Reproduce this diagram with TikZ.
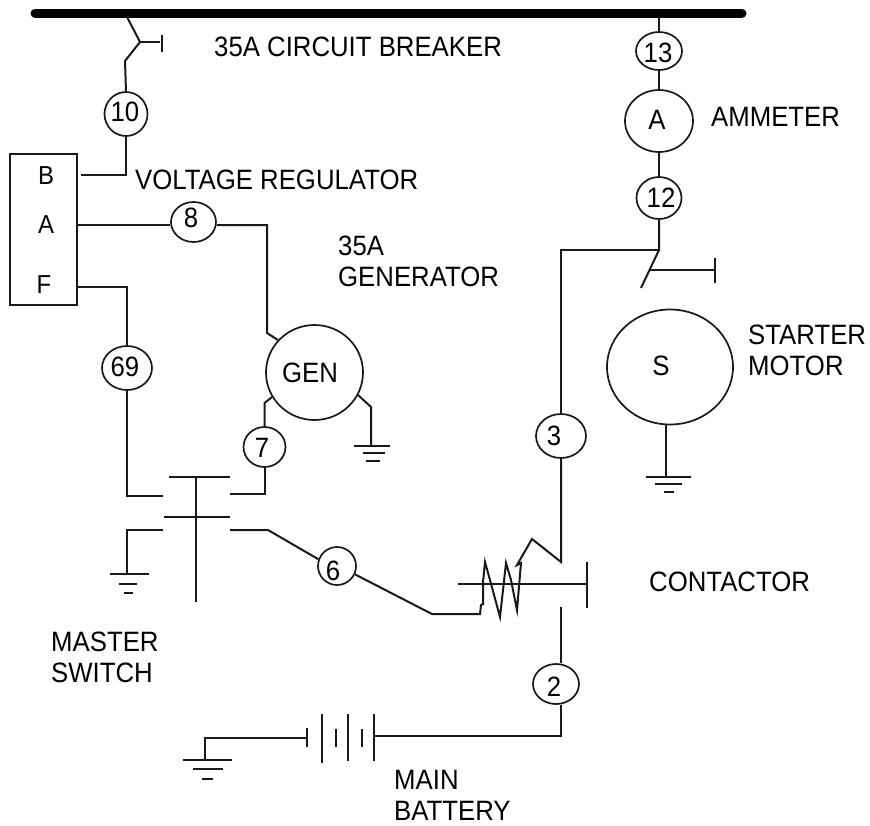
\documentclass[tikz,border=0pt]{standalone}
\usepackage{fontspec}
\usetikzlibrary{shapes.geometric}
\setmainfont[FakeStretch=0.92]{Liberation Sans}
\tikzset{
  wire/.style={draw=black!90,line width=2pt,line join=miter},
  tag/.style={ellipse,draw=black!90,line width=1.7pt,inner sep=0pt},
  num/.style n args={3}{label={[inner sep=0pt,font=\fontsize{28}{28}\selectfont,xshift=#2,yshift=#3]center:#1}},
  pin/.style={inner sep=0pt,font=\fontsize{26}{26}\selectfont},
  lab/.style={anchor=west,inner sep=0pt,align=left,font=\fontsize{28}{31}\selectfont}
}
\begin{document}
\begin{tikzpicture}[x=1pt,y=-1pt]
\useasboundingbox (0,0) rectangle (870,825);
% bus
\coordinate (busL) at (35,13); \coordinate (busR) at (742,13);
\draw[line width=9pt,line cap=round] (busL) -- (busR);
\coordinate (wx) at (561,0);
% regulator
\node[draw=black!90,line width=1.8pt,minimum width=67pt,minimum height=151pt,inner sep=0pt] (reg) at (43.5,229.5) {};
\node[pin] (pB) at (46,176) {B};
\node[pin] (pA) at (46,225) {A};
\node[pin] (pF) at (44,285) {F};
% tags
\node[tag,minimum width=43pt,minimum height=44pt,num={10}{-1pt}{2pt}] (t10) at (126,114) {};
\node[tag,minimum width=45pt,minimum height=40pt,num={8}{-2.5pt}{4pt}] (t8) at (193.5,222) {};
\node[tag,minimum width=50pt,minimum height=44pt,num={69}{-2pt}{1pt}] (t69) at (127,368) {};
\node[tag,minimum width=42pt,minimum height=40pt,num={7}{-2.5pt}{-1pt}] (t7) at (264.5,447) {};
\node[tag,minimum width=38pt,minimum height=38pt,num={6}{-4pt}{-5pt}] (t6) at (337,566) {};
\node[tag,minimum width=50pt,minimum height=44pt,num={3}{-7pt}{0pt}] (t3) at (561,436) {};
\node[tag,minimum width=46pt,minimum height=40pt,num={2}{-2pt}{-3pt}] (t2) at (556,684) {};
\node[tag,minimum width=46pt,minimum height=38pt,num={13}{-1pt}{-2pt}] (t13) at (659,51) {};
\node[tag,minimum width=45pt,minimum height=42pt,num={12}{2pt}{0pt}] (t12) at (659,198) {};
\node[tag,minimum width=68pt,minimum height=62pt,num={A}{-2pt}{1pt}] (amm) at (659,121) {};
\node[tag,minimum width=97pt,minimum height=95pt,num={GEN}{-4.5pt}{0pt}] (gen) at (314.5,372.5) {};
\node[tag,minimum width=126pt,minimum height=115pt,num={S}{-9pt}{1pt}] (mot) at (670,367) {};
% breaker
\coordinate (cb1) at (127,17); \coordinate (cb2) at (140,42); \coordinate (cb3) at (125,61);
\draw[wire] (cb1) -- (cb2) -- (cb3) -- (t10.north);
\draw[wire] (cb2) -- (160,42);
\draw[wire] (162,35) -- (162,52);
\draw[wire] (t10.south) -- (126,175) -- (81,175);
% A wire
\draw[wire] (reg.east |- pA) -- (t8.west |- pA);
\draw[wire] (t8.east |- pA) -- (267,225) -- (267,333) -- (278,340);
% F wire
\draw[wire] (77,287) -- (127,287) -- (t69.north);
\draw[wire] (t69.south) -- (127,496) -- (163,496);
% master switch
\draw[wire] (169,477) -- (230,477);
\draw[wire] (196,477) -- (196,602);
\draw[wire] (164,517) -- (230,517);
\draw[wire] (230,494) -- (264.5,494) -- (t7.south);
\draw[wire] (t7.north) -- (264.5,403) -- (272,397);
\draw[wire] (358,395) -- (371,407) -- (371,446);
\draw[wire] (354,446) -- (390,446) (363,453) -- (385,453) (366,461) -- (380,461);
\draw[wire] (163,530) -- (127,530) -- (127,574);
\draw[wire] (110,574) -- (149,574) (119,584) -- (137,584) (124,593) -- (133,593);
\draw[wire] (230,530) -- (268,530) -- (t6.160);
\draw[wire] (t6.-25) -- (432,614) -- (480,614) -- (481,605) -- (483,604) -- (483,582) -- (485,562) -- (490,580) -- (500,617) -- (503,590) -- (506,563) -- (511,580) -- (517,610) -- (521,563) -- (517,565) -- (532,539) -- (561,562) -- (t3.south);
\draw[wire] (t3.north) -- (561,250) -- (659,250);
\draw[wire] (458,584) -- (588,584);
\draw[wire] (587,562) -- (587,608);
\draw[wire] (561,607) -- (wx |- t2.north);
\draw[wire] (wx |- t2.south) -- (561,736) -- (374,736);
% battery
\draw[wire] (307,728) -- (307,747);
\draw[wire] (322,714) -- (322,763);
\draw[wire] (336,729) -- (336,747);
\draw[wire] (348,714) -- (348,761);
\draw[wire] (362,729) -- (362,747);
\draw[wire] (374,714) -- (374,761);
\draw[wire] (307,738) -- (205,738) -- (205,760);
\draw[wire] (183,760) -- (232,760) (193,769) -- (223,769) (202,779) -- (213,779);
% right column
\draw[wire] (659,17) -- (t13.north);
\draw[wire] (t13.south) -- (amm.north);
\draw[wire] (amm.south) -- (t12.north);
\draw[wire] (t12.south) -- (659,250) -- (641,288);
\draw[wire] (650,270) -- (715,270);
\draw[wire] (715,258) -- (715,283);
\draw[wire] (666,425) -- (666,477);
\draw[wire] (646,477) -- (691,477) (655,484) -- (682,484) (664,492) -- (674,492);
% labels
\node[lab] (l1) at (214,47) {35A CIRCUIT BREAKER};
\node[lab] (l2) at (135,180) {VOLTAGE REGULATOR};
\node[lab] (l3) at (338,261) {35A\\GENERATOR};
\node[lab] (l4) at (711,117) {AMMETER};
\node[lab] (l5) at (748,350.5) {STARTER\\MOTOR};
\node[lab] (l6) at (649,582) {CONTACTOR};
\node[lab] (l7) at (51,657) {MASTER\\SWITCH};
\node[lab] (l8) at (394,795) {MAIN\\BATTERY};
\end{tikzpicture}
\end{document}
